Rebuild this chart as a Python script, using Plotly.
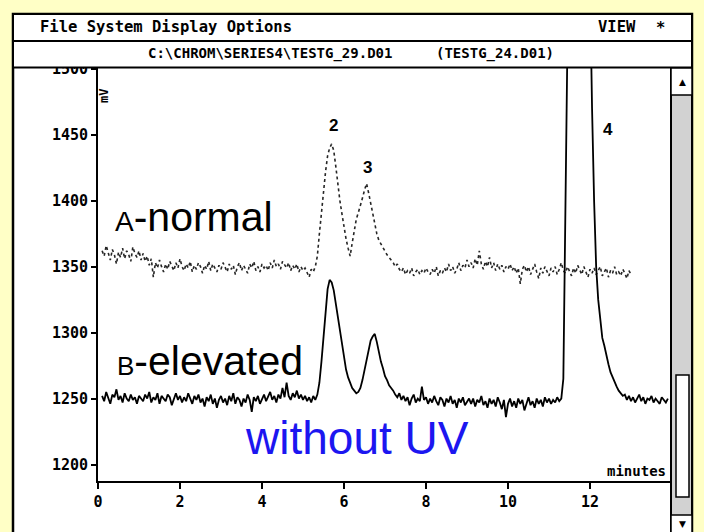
import plotly.graph_objects as go

# ---------------- data ----------------
t0_a = 0.10
t0_b = 0.10
dt = 0.05

signal_a = [
    1362,1358,1366,1360,1355,1363,1359,1352,1361,1357,1364,1356,1362,1359,1354,1365,1360,1357,1362,1355,
    1360,1354,1358,1351,1356,1342,1353,1349,1355,1350,1346,1352,1348,1354,1351,1347,1353,1349,1356,1350,
    1347,1352,1349,1354,1346,1351,1348,1353,1350,1345,1351,1348,1354,1347,1352,1349,1346,1351,1348,1353,
    1349,1346,1352,1348,1351,1344,1350,1353,1347,1351,1348,1345,1352,1349,1354,1347,1350,1346,1352,1349,
    1351,1347,1353,1349,1355,1350,1352,1348,1354,1351,1349,1353,1347,1351,1348,1352,1346,1350,1347,1349,
    1345,1342,1348,1346,1350,1358,1375,1392,1408,1422,1434,1440,1443,1438,1426,1412,1400,1390,1380,1371,
    1364,1358,1368,1378,1386,1391,1396,1402,1408,1413,1406,1398,1390,1382,1375,1370,1367,1364,1361,1359,
    1357,1355,1353,1350,1352,1348,1346,1349,1344,1347,1345,1349,1343,1346,1348,1344,1347,1345,1349,1346,
    1344,1348,1345,1350,1343,1347,1345,1349,1346,1352,1347,1350,1345,1348,1353,1347,1351,1349,1355,1350,
    1353,1349,1356,1351,1362,1352,1348,1354,1350,1357,1349,1353,1347,1352,1348,1351,1346,1350,1348,1352,
    1347,1350,1345,1349,1337,1348,1351,1346,1350,1344,1348,1352,1346,1341,1349,1345,1350,1347,1343,1349,
    1346,1350,1344,1348,1353,1347,1345,1350,1346,1343,1349,1345,1351,1347,1344,1350,1346,1342,1348,1345,
    1349,1344,1347,1350,1343,1346,1349,1342,1347,1345,1350,1344,1346,1343,1348,1345,1341,1347,1344,
]

signal_b = [
    1252,1248,1255,1250,1246,1253,1251,1257,1249,1252,1247,1254,1250,1248,1253,1249,1251,1246,1252,1250,
    1248,1253,1250,1255,1247,1251,1249,1254,1246,1252,1250,1248,1253,1251,1245,1250,1254,1249,1252,1247,
    1251,1248,1254,1250,1246,1252,1249,1253,1247,1250,1244,1251,1248,1253,1246,1250,1243,1249,1252,1247,
    1250,1245,1252,1248,1254,1246,1251,1249,1244,1250,1247,1253,1249,1240,1251,1248,1252,1246,1250,1253,
    1248,1251,1255,1249,1252,1247,1253,1250,1258,1251,1262,1252,1249,1254,1251,1256,1250,1253,1249,1252,
    1248,1251,1247,1252,1249,1253,1262,1278,1298,1318,1333,1340,1338,1332,1322,1312,1302,1290,1280,1272,
    1266,1262,1258,1256,1254,1255,1258,1264,1272,1280,1288,1294,1297,1299,1293,1285,1278,1273,1267,1264,
    1260,1258,1256,1253,1251,1254,1249,1252,1248,1251,1245,1250,1253,1247,1250,1248,1259,1249,1251,1246,
    1250,1247,1252,1248,1245,1251,1249,1244,1250,1247,1252,1246,1249,1243,1250,1247,1251,1245,1248,1250,
    1246,1250,1244,1249,1247,1252,1245,1248,1243,1250,1246,1249,1244,1251,1247,1242,1249,1236,1246,1250,
    1244,1248,1243,1250,1246,1249,1241,1247,1251,1245,1248,1243,1250,1246,1249,1244,1251,1247,1250,1246,
    1249,1247,1251,1248,1250,1265,1380,1520,1700,1850,1950,2000,2000,1980,1930,1850,1750,1640,1540,1470,
    1400,1350,1325,1308,1296,1290,1282,1276,1270,1266,1262,1259,1256,1254,1252,1253,1249,1252,1248,1251,
    1247,1250,1253,1248,1251,1246,1250,1249,1252,1247,1250,1248,1246,1251,1249,1247,1250,
]

x_ticks = [0, 2, 4, 6, 8, 10, 12]
y_ticks = [1200, 1250, 1300, 1350, 1400, 1450, 1500]

peak_labels = ["2", "3", "4"]
peak_times = [5.75, 6.58, 12.45]
peak_heights = [1457, 1425, 1454]

menu_text = "File System Display Options"
file_text = "C:\\CHROM\\SERIES4\\TESTG_29.D01"
ref_text = "(TESTG_24.D01)"

times_a = [round(t0_a + dt * i, 2) for i in range(len(signal_a))]
times_b = [round(t0_b + dt * i, 2) for i in range(len(signal_b))]

# ---------------- layout geometry ----------------
W, H = 704, 532
L, R, T, B = 98, 672, 68, 481


def px(X):
    return (X - L) / (R - L)


def py(Y):
    return (B - Y) / (B - T)


fig = go.Figure()
fig.add_trace(go.Scatter(x=times_a, y=signal_a, mode="lines",
                         line=dict(color="#262626", width=1.6, dash="dot"),
                         showlegend=False, hoverinfo="skip"))
fig.add_trace(go.Scatter(x=times_b, y=signal_b, mode="lines",
                         line=dict(color="black", width=1.8),
                         showlegend=False, hoverinfo="skip"))

mono = "DejaVu Sans Mono"
sans = "Liberation Sans, Arial"

shapes = []
# window
shapes.append(dict(type="rect", xref="paper", yref="paper",
                   x0=px(13), x1=px(692), y0=py(545), y1=py(14),
                   fillcolor="white", line=dict(color="black", width=2.5), layer="below"))
# menu bar and title bar (drawn above so the 1500 label is clipped)
shapes.append(dict(type="rect", xref="paper", yref="paper",
                   x0=px(13), x1=px(692), y0=py(41), y1=py(14),
                   fillcolor="white", line=dict(color="black", width=2), layer="above"))
shapes.append(dict(type="rect", xref="paper", yref="paper",
                   x0=px(13), x1=px(692), y0=py(67.5), y1=py(41),
                   fillcolor="white", line=dict(color="black", width=2), layer="above"))
# scroll bar
shapes.append(dict(type="rect", xref="paper", yref="paper",
                   x0=px(671), x1=px(692), y0=py(545), y1=py(68),
                   fillcolor="#d2d2d2", line=dict(color="black", width=2), layer="above"))
shapes.append(dict(type="rect", xref="paper", yref="paper",
                   x0=px(671), x1=px(692), y0=py(95), y1=py(68),
                   fillcolor="white", line=dict(color="black", width=1.5), layer="above"))
shapes.append(dict(type="rect", xref="paper", yref="paper",
                   x0=px(676), x1=px(689), y0=py(497), y1=py(375),
                   fillcolor="white", line=dict(color="black", width=1.5), layer="above"))
shapes.append(dict(type="rect", xref="paper", yref="paper",
                   x0=px(671), x1=px(692), y0=py(545), y1=py(515),
                   fillcolor="white", line=dict(color="black", width=1.5), layer="above"))

ann = []


def text(X, Y, s, size, family, color="black", xanchor="center", bold=False, angle=0):
    ann.append(dict(x=px(X), y=py(Y), xref="paper", yref="paper", text=s,
                    showarrow=False, xanchor=xanchor, yanchor="middle", textangle=angle,
                    font=dict(size=size, family=family, color=color,
                              weight="bold" if bold else "normal")))


text(38, 27, menu_text, 15.5, mono, xanchor="left", bold=True)
text(596, 27, "VIEW", 15.5, mono, xanchor="left", bold=True)
text(660, 28, "*", 15.5, mono, bold=True)
text(146, 53, file_text, 14, mono, xanchor="left", bold=True)
text(434, 53, ref_text, 14, mono, xanchor="left", bold=True)
text(104, 96, "mV", 12, mono, bold=True, angle=-90)
text(668, 471, "minutes", 14, mono, xanchor="right", bold=True)
text(682, 82, "▲", 9, "DejaVu Sans")
text(682, 524, "▼", 9, "DejaVu Sans")

for lab, tm, ht in zip(peak_labels, peak_times, peak_heights):
    ann.append(dict(x=tm, y=ht, xref="x", yref="y", text=lab, showarrow=False,
                    font=dict(size=17, family=sans, color="black", weight="bold")))

text(113, 217, "<span style='font-size:28px'>A</span>-normal", 41, sans, xanchor="left")
text(115, 361, "<span style='font-size:26px'>B</span>-elevated", 41, sans, xanchor="left")
text(243, 438, "without UV", 46, sans, color="rgb(28,22,240)", xanchor="left")

fig.update_layout(
    width=W, height=H,
    margin=dict(l=L, r=W - R, t=T, b=H - B, pad=0),
    paper_bgcolor="#FFFFC6",
    plot_bgcolor="white",
    shapes=shapes,
    annotations=ann,
    xaxis=dict(range=[0, 14.0], tickmode="array", tickvals=x_ticks,
               showgrid=False, zeroline=False, showline=True, linecolor="black", linewidth=2,
               ticks="outside", ticklen=6, tickwidth=1.5, tickcolor="black",
               tickfont=dict(family=mono, size=15, color="black", weight="bold"),
               fixedrange=True),
    yaxis=dict(range=[1187.5, 1500.6], tickmode="array", tickvals=y_ticks,
               showgrid=False, zeroline=False, showline=True, linecolor="black", linewidth=2,
               ticks="outside", ticklen=5, tickwidth=1.5, tickcolor="black",
               tickfont=dict(family=mono, size=15, color="black", weight="bold"),
               fixedrange=True),
)

fig.write_html(
    "out.html",
    config={"displayModeBar": False},
    post_script="document.body.style.margin='0px';document.body.style.background='#FFFFC6';",
)
